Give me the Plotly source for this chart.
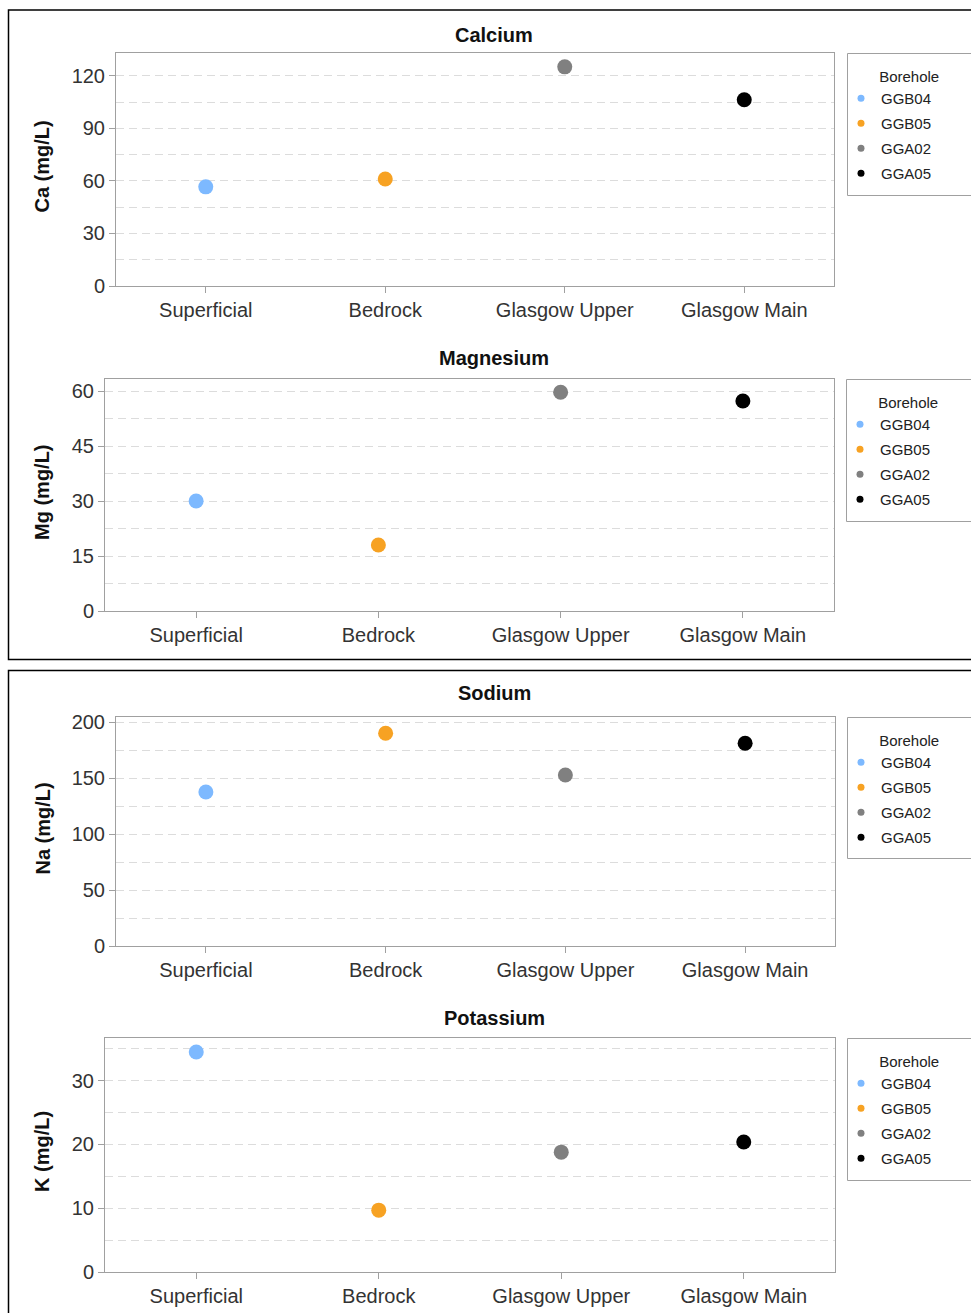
import plotly.graph_objects as go

W, H = 971, 1313

categories = ["Superficial", "Bedrock", "Glasgow Upper", "Glasgow Main"]
boreholes = ["GGB04", "GGB05", "GGA02", "GGA05"]
colors = ["#7db9ff", "#f7a223", "#808080", "#000000"]

calcium = [56.6, 61.1, 125.1, 106.3]
magnesium = [30.0, 18.0, 59.7, 57.3]
sodium = [137.5, 190.0, 152.7, 181.0]
potassium = [34.5, 9.7, 18.8, 20.4]

FONT = "Liberation Sans, Arial, sans-serif"


def px(x):
    return x / W


def py(y):
    return 1 - y / H


panels = [
    dict(title="Calcium", ytitle="Ca (mg/L)", values=calcium, xd=(116, 834), yd=(53, 286),
         yr=[0, 133], dtick=30, minor=15, title_y=35, leg=(847, 53, 195)),
    dict(title="Magnesium", ytitle="Mg (mg/L)", values=magnesium, xd=(105, 834), yd=(379, 611),
         yr=[0, 63.3], dtick=15, minor=7.5, title_y=358, leg=(846, 379, 521)),
    dict(title="Sodium", ytitle="Na (mg/L)", values=sodium, xd=(116, 835), yd=(717, 946),
         yr=[0, 204.5], dtick=50, minor=25, title_y=693, leg=(847, 717, 858)),
    dict(title="Potassium", ytitle="K (mg/L)", values=potassium, xd=(105, 835), yd=(1038, 1272),
         yr=[0, 36.7], dtick=10, minor=5, title_y=1018, leg=(847, 1038, 1180)),
]

fig = go.Figure()
layout = dict(
    width=W, height=H,
    margin=dict(l=0, r=0, t=0, b=0, autoexpand=False),
    paper_bgcolor="white", plot_bgcolor="white",
    font=dict(family=FONT, color="#222222"),
    annotations=[], shapes=[],
)

AX = "#a0a0a0"
GRID = "#dcdcdc"
TICKFONT = dict(size=20, color="#333333", family=FONT)

for k, p in enumerate(panels):
    n = "" if k == 0 else str(k + 1)
    xa, ya = "x" + n, "y" + n
    legname = "legend" + n
    for i, b in enumerate(boreholes):
        fig.add_trace(go.Scatter(
            x=[categories[i]], y=[p["values"][i]], mode="markers",
            marker=dict(color=colors[i], size=15, symbol="circle"),
            name=b, xaxis=xa, yaxis=ya, showlegend=False,
            hovertemplate="%{x}: %{y}<extra>" + b + "</extra>",
        ))
    for i, b in enumerate(boreholes):
        fig.add_trace(go.Scatter(
            x=[None], y=[None], mode="markers",
            marker=dict(color=colors[i], size=7, symbol="circle"),
            name=b, xaxis=xa, yaxis=ya, showlegend=True, legend=legname,
            legendgroup=legname + b,
        ))
    layout["xaxis" + n] = dict(
        domain=[px(p["xd"][0]), px(p["xd"][1])], anchor=ya,
        type="category", categoryorder="array", categoryarray=categories,
        range=[-0.5, 3.5], showline=True, linecolor=AX, linewidth=1, mirror=True,
        ticks="outside", ticklen=6, tickcolor=AX, showgrid=False, zeroline=False,
        tickfont=TICKFONT, fixedrange=True,
    )
    layout["yaxis" + n] = dict(
        domain=[py(p["yd"][1]), py(p["yd"][0])], anchor=xa,
        range=p["yr"], tick0=0, dtick=p["dtick"],
        showline=True, linecolor=AX, linewidth=1, mirror=True,
        ticks="outside", ticklen=6, tickcolor=AX,
        showgrid=True, gridcolor=GRID, griddash="8px,5px", gridwidth=1,
        minor=dict(dtick=p["minor"], tick0=0, showgrid=True, gridcolor=GRID,
                   griddash="8px,5px", ticks=""),
        zeroline=False, tickfont=TICKFONT,
        fixedrange=True,
    )
    lx, ltop, lbot = p["leg"]
    layout[legname] = dict(
        x=px(lx + 1), xanchor="left", y=py(ltop + 9.5), yanchor="top",
        xref="paper", yref="paper",
        title=dict(text="&nbsp;" * 7 + "Borehole", font=dict(size=15, color="#222222", family=FONT)),
        font=dict(size=15, color="#222222", family=FONT),
        bgcolor="rgba(0,0,0,0)", borderwidth=0,
        traceorder="grouped", tracegroupgap=2.5, indentation=-7,
        itemclick=False, itemdoubleclick=False,
    )
    layout["shapes"].append(dict(
        type="rect", xref="paper", yref="paper",
        x0=px(lx + 0.5), x1=px(1000), y0=py(ltop + 0.5), y1=py(lbot + 0.5),
        line=dict(color=AX, width=1), fillcolor="rgba(0,0,0,0)",
    ))
    layout["annotations"].append(dict(
        text="<b>" + p["title"] + "</b>", xref="paper", yref="paper",
        x=px(494), y=py(p["title_y"]), xanchor="center", yanchor="middle",
        showarrow=False, font=dict(size=20, color="#111111", family=FONT),
    ))
    layout["annotations"].append(dict(
        text="<b>" + p["ytitle"] + "</b>", xref="paper", yref="paper",
        x=px(42), y=py((p["yd"][0] + p["yd"][1]) / 2 - 3), xanchor="center", yanchor="middle",
        textangle=-90, showarrow=False, font=dict(size=20, color="#111111", family=FONT),
    ))

# outer panel frames
for (top, bot) in [(10, 659.5), (670.5, 1340)]:
    layout["shapes"].append(dict(
        type="rect", xref="paper", yref="paper",
        x0=px(8.5), x1=px(1000), y0=py(top), y1=py(bot),
        line=dict(color="black", width=1.5), fillcolor="rgba(0,0,0,0)",
    ))

fig.update_layout(**layout)
fig.write_html("out.html", config={"displayModeBar": False},
               post_script="document.body.style.margin='0';")
